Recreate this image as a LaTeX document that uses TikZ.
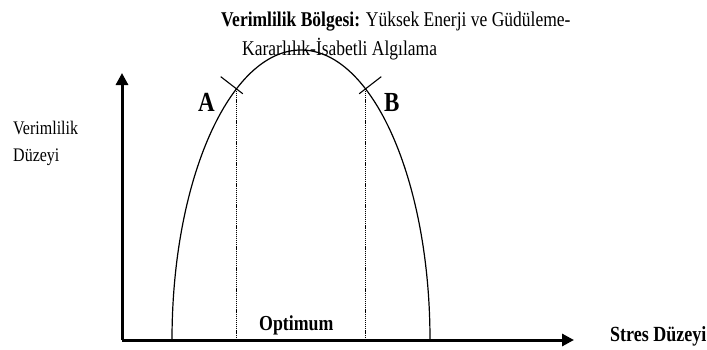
\documentclass[tikz,border=0pt]{standalone}
\usepackage{fontspec}
\setmainfont{Liberation Serif}
\usepackage{graphicx}
\usetikzlibrary{arrows.meta,calc}
\newcommand\vst[1]{\scalebox{1}[1.2]{#1}}
\begin{document}
\begin{tikzpicture}[x=1pt,y=1pt,
  axis/.style={line width=3pt,-{Triangle[length=12pt,width=12pt]}},
  curve/.style={line width=1.2pt},
  guide/.style={line width=1.2pt,dash pattern=on 1.2pt off 0.9pt},
  tick/.style={line width=1.1pt},
  lbl/.style={inner sep=0pt,anchor=base west},
  txt/.style={font=\fontsize{17.5}{20}\selectfont},
  big/.style={font=\fontsize{23}{26}\selectfont\bfseries}]
\useasboundingbox (0,0) rectangle (707,349);
% axes
\coordinate (O) at (122,9);
\coordinate (xend) at (574,9);
\coordinate (yend) at (122,276);
\draw[axis] (O) -- (xend);
\draw[axis] (O) -- (yend);
% curve (half ellipse)
\coordinate (lbase) at (172,9);
\draw[curve] (lbase) arc[start angle=180,end angle=0,x radius=129,y radius=290];
% points A and B on the curve
\coordinate (pA) at ($(301,9)+(120:129 and 290)$);
\coordinate (pB) at ($(301,9)+(60:129 and 290)$);
\coordinate (fA) at (pA |- O);
\coordinate (fB) at (pB |- O);
\draw[guide] (pA) -- (fA);
\draw[guide] (pB) -- (fB);
% cross marks
\coordinate (aout) at ($(pA)+(-15.8,12.2)$);
\coordinate (ain) at ($(pA)+(6.3,-4.9)$);
\coordinate (bout) at ($(pB)+(15.8,12.2)$);
\coordinate (bin) at ($(pB)+(-6.3,-4.9)$);
\draw[tick] (aout) -- (ain);
\draw[tick] (bout) -- (bin);
% labels
\node[lbl,big] (labA) at (198,238) {\vst{A}};
\node[lbl,big] (labB) at (384,238) {\vst{B}};
\node[lbl,txt] (t1) at (221,323) {\vst{\textbf{Verimlilik Bölgesi:} Yüksek Enerji ve Güdüleme-}};
\node[lbl,txt] (t2) at (242,294) {\vst{Kararlılık-İsabetli Algılama}};
\node[lbl,font=\fontsize{16}{18}\selectfont] (v1) at (13,215) {\vst{Verimlilik}};
\node[lbl,font=\fontsize{16}{18}\selectfont] (v2) at (13,188) {\vst{Düzeyi}};
\node[lbl,txt,font=\fontsize{17.8}{20}\selectfont\bfseries] (opt) at (259,19) {\vst{Optimum}};
\node[lbl,txt,font=\fontsize{18}{20}\selectfont\bfseries] (stres) at (610,8) {\vst{Stres Düzeyi}};
\end{tikzpicture}
\end{document}
